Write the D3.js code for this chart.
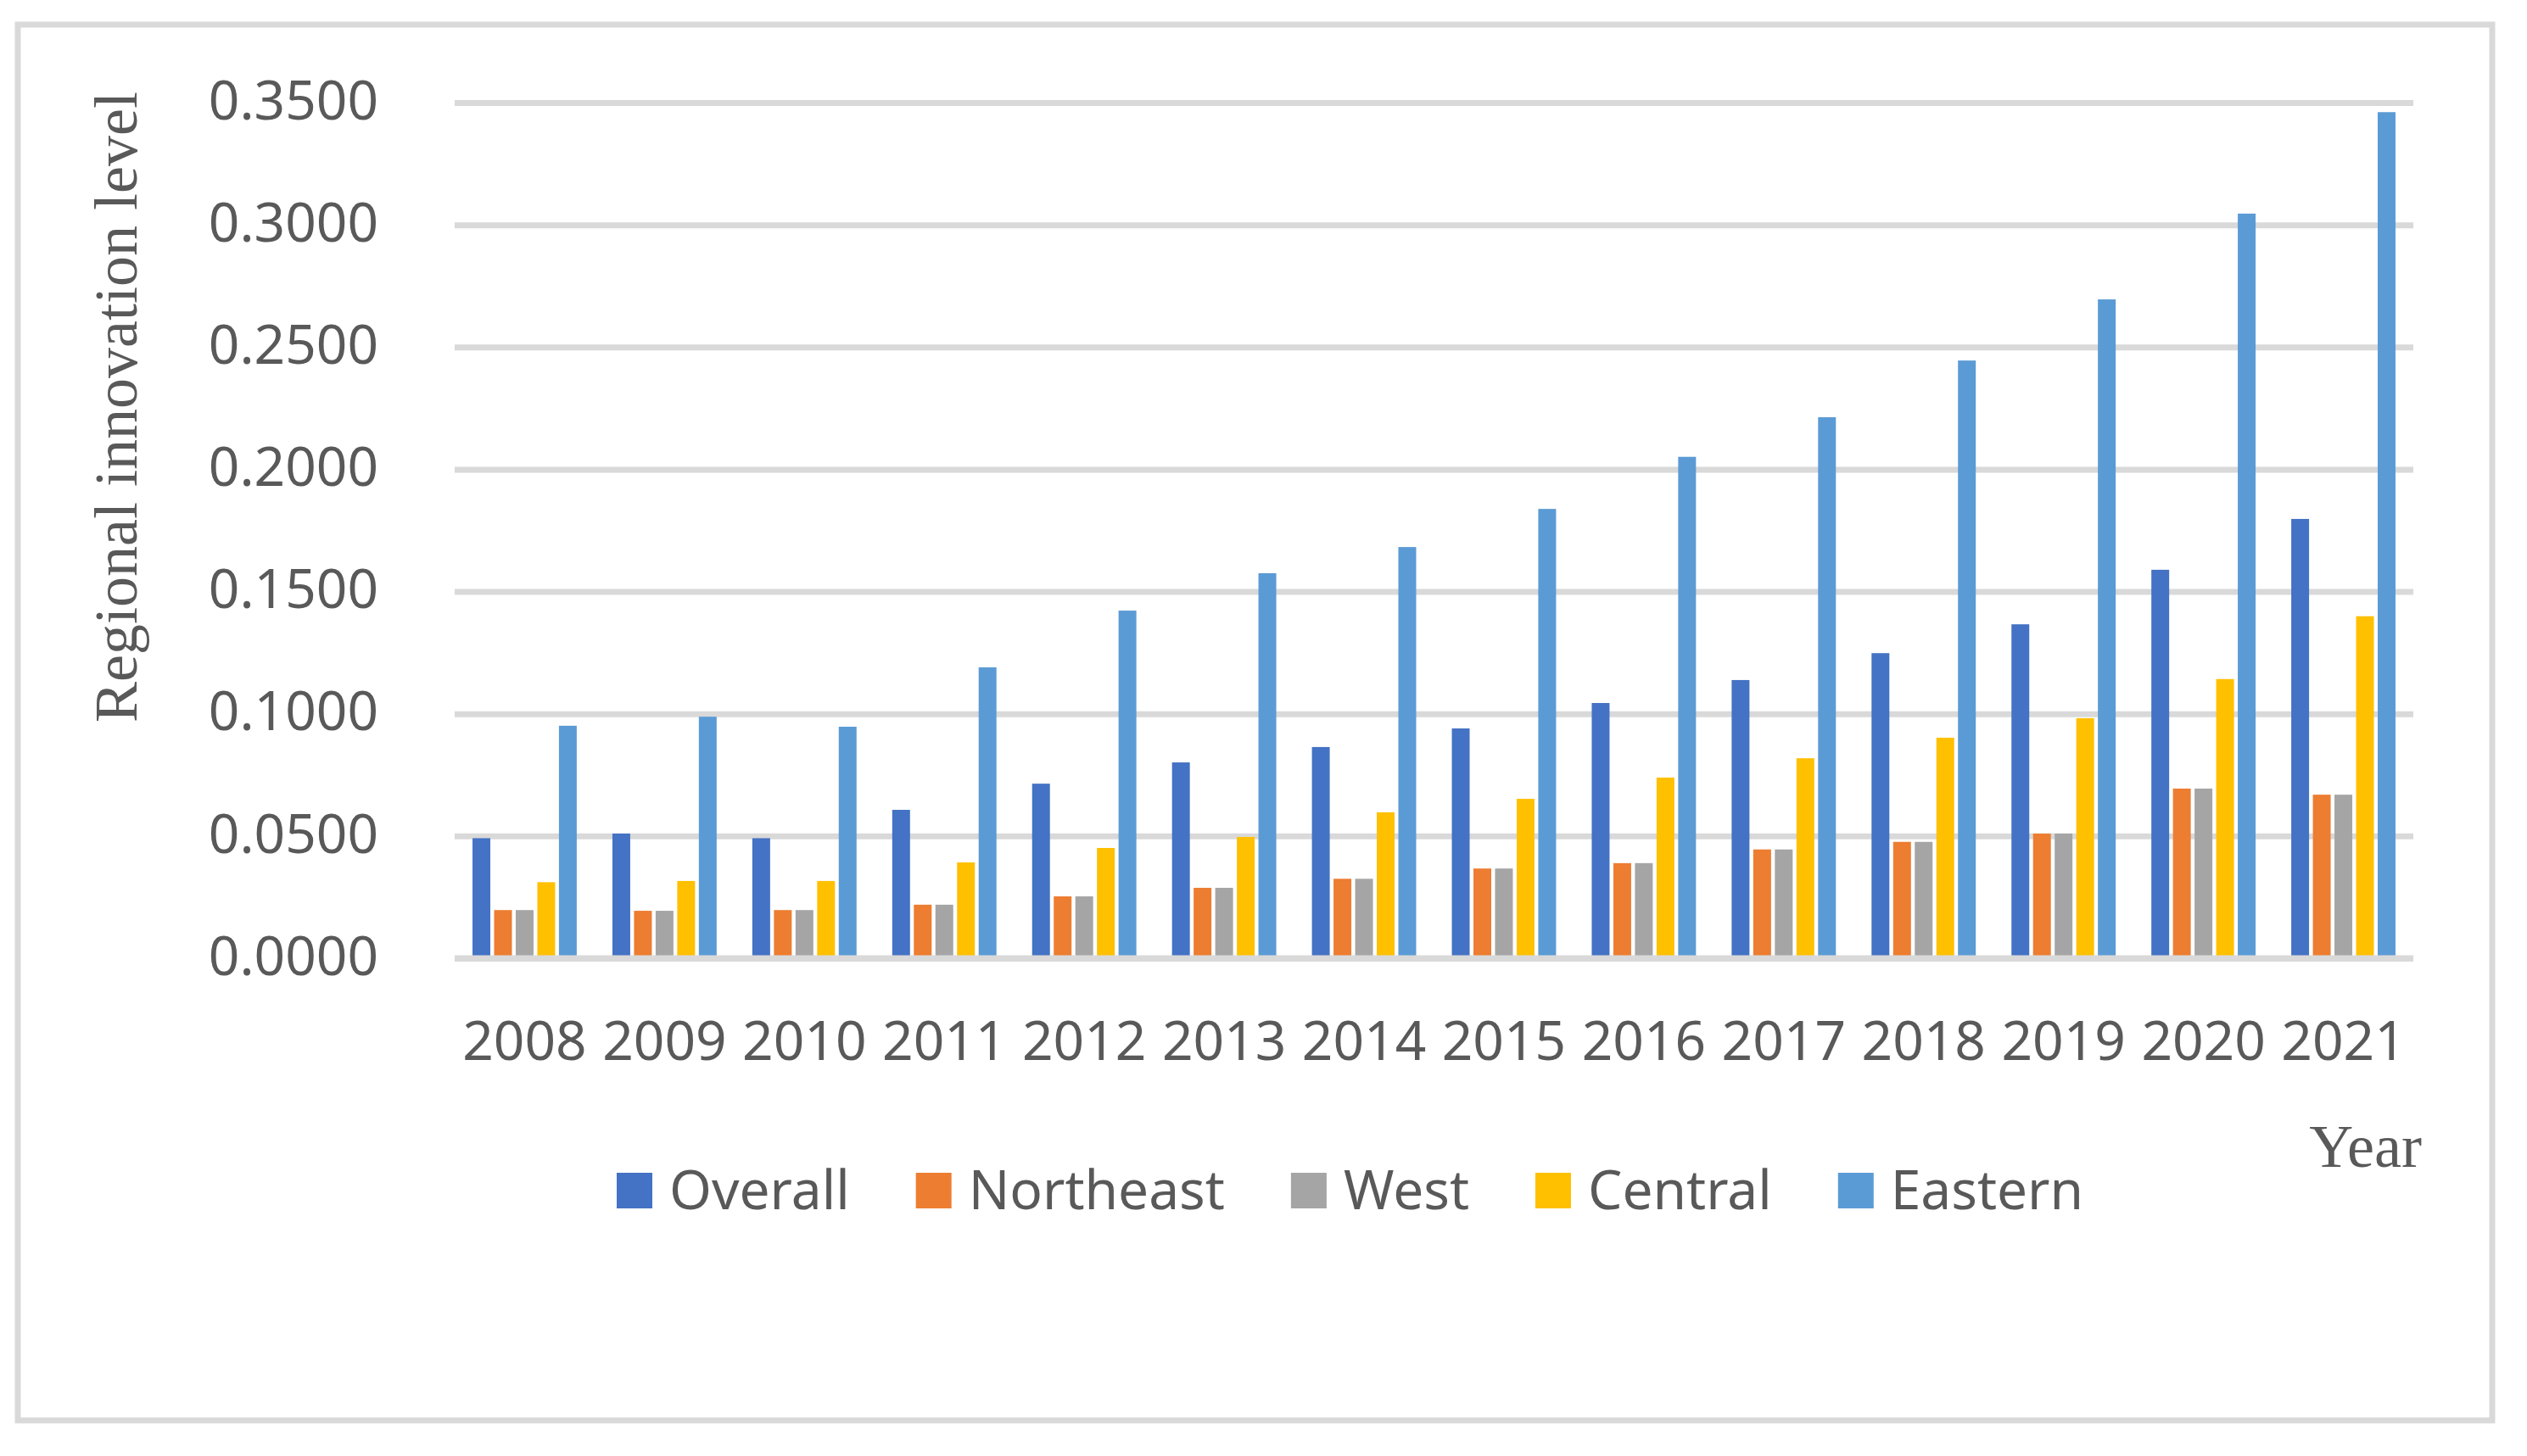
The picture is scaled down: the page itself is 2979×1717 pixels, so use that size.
<!DOCTYPE html>
<meta charset="utf-8">
<head>
  <title>Regional innovation level</title>
</head>

<style>
body {
  margin: 0;
  background: #fff;
}
text {
  fill: #595959;
}
.tick text, .legend text {
  font-family: "Noto Sans", sans-serif;
  font-size: 64px;
}
.title {
  font-family: "Liberation Serif", "Times New Roman", serif;
  font-size: 72px;
}
</style>

<body>
  <svg width="2979" height="1717">
    <rect x="21" y="29" width="2917" height="1646" fill="#fff" stroke="#d9d9d9" stroke-width="7"></rect>
    <g id="wrapper"></g>
  </svg>

  <script src="https://cdnjs.cloudflare.com/ajax/libs/d3/7.8.5/d3.min.js"></script>

  <script>
  var years = ['2008', '2009', '2010', '2011', '2012', '2013', '2014',
               '2015', '2016', '2017', '2018', '2019', '2020', '2021'];

  var seriesNames = ['Overall', 'Northeast', 'West', 'Central', 'Eastern'];
  var seriesColors = ['#4472c4', '#ed7d31', '#a5a5a5', '#ffc000', '#5b9bd5'];

  var overall   = [0.0491, 0.0510, 0.0491, 0.0607, 0.0714, 0.0801, 0.0864, 0.0940, 0.1044, 0.1138, 0.1248, 0.1366, 0.1589, 0.1797];
  var northeast = [0.0197, 0.0194, 0.0197, 0.0219, 0.0253, 0.0288, 0.0325, 0.0367, 0.0389, 0.0445, 0.0476, 0.0510, 0.0694, 0.0669];
  var west      = [0.0197, 0.0194, 0.0197, 0.0219, 0.0253, 0.0288, 0.0325, 0.0367, 0.0389, 0.0445, 0.0476, 0.0510, 0.0694, 0.0669];
  var central   = [0.0311, 0.0316, 0.0316, 0.0392, 0.0451, 0.0496, 0.0597, 0.0652, 0.0739, 0.0818, 0.0902, 0.0982, 0.1142, 0.1399];
  var eastern   = [0.0951, 0.0988, 0.0947, 0.1190, 0.1422, 0.1575, 0.1682, 0.1838, 0.2051, 0.2213, 0.2445, 0.2695, 0.3046, 0.3461];

  var yTicks = [0, 0.05, 0.10, 0.15, 0.20, 0.25, 0.30, 0.35];

  var series = [overall, northeast, west, central, eastern];

  // plot area (window.top is read-only, so avoid that name)
  var plotLeft = 536, plotRight = 2845, plotTop = 121, plotBottom = 1130;

  var x0 = d3.scaleBand()
    .domain(years)
    .range([plotLeft, plotRight])
    .paddingInner(0.255)
    .paddingOuter(0.1275);

  var x1 = d3.scaleBand()
    .domain(seriesNames)
    .range([0, x0.bandwidth()])
    .paddingInner(0.176);

  var y = d3.scaleLinear()
    .domain([0, 0.35])
    .range([plotBottom, plotTop]);

  var color = d3.scaleOrdinal()
    .domain(seriesNames)
    .range(seriesColors);

  var svg = d3.select('#wrapper');

  // gridlines + y labels
  var yAxis = svg.append('g')
    .attr('transform', 'translate(' + plotLeft + ',0)')
    .call(d3.axisLeft(y)
      .tickValues(yTicks)
      .tickFormat(d3.format('.4f'))
      .tickSize(-(plotRight - plotLeft))
      .tickPadding(90));
  yAxis.select('.domain').remove();
  yAxis.selectAll('.tick line')
    .attr('stroke', '#d9d9d9')
    .attr('stroke-width', 7);
  yAxis.selectAll('.tick text')
    .attr('dy', '0.3em');

  // bars
  svg.append('g')
    .selectAll('g')
    .data(years)
    .enter()
    .append('g')
    .attr('transform', function(d) { return 'translate(' + x0(d) + ',0)'; })
    .selectAll('rect')
    .data(function(d, i) {
      return seriesNames.map(function(name, k) {
        return { name: name, value: series[k][i] };
      });
    })
    .enter()
    .append('rect')
    .attr('x', function(d) { return x1(d.name); })
    .attr('y', function(d) { return y(d.value); })
    .attr('width', x1.bandwidth())
    .attr('height', function(d) { return y(0) - y(d.value); })
    .style('fill', function(d) { return color(d.name); });

  // category axis line
  svg.append('line')
    .attr('x1', plotLeft)
    .attr('x2', plotRight)
    .attr('y1', y(0))
    .attr('y2', y(0))
    .attr('stroke', '#d9d9d9')
    .attr('stroke-width', 7);

  var xAxis = svg.append('g')
    .attr('transform', 'translate(0,' + y(0) + ')')
    .call(d3.axisBottom(x0).tickSize(0));
  xAxis.select('.domain').remove();
  xAxis.selectAll('.tick text')
    .attr('y', 120)
    .attr('dy', 0);

  // axis titles
  svg.append('text')
    .attr('class', 'title')
    .attr('transform', 'translate(161,480) rotate(-90)')
    .attr('text-anchor', 'middle')
    .text('Regional innovation level');

  svg.append('text')
    .attr('class', 'title')
    .attr('x', 2855)
    .attr('y', 1376)
    .attr('text-anchor', 'end')
    .text('Year');

  // legend
  var legend = svg.append('g').attr('class', 'legend');
  var lx = 727;
  seriesNames.forEach(function(name) {
    legend.append('rect')
      .attr('x', lx)
      .attr('y', 1383)
      .attr('width', 42)
      .attr('height', 42)
      .style('fill', color(name));
    var t = legend.append('text')
      .attr('x', lx + 62)
      .attr('y', 1426)
      .text(name);
    lx += 62 + t.node().getComputedTextLength() + 78;
  });
  </script>
</body>
</html>
